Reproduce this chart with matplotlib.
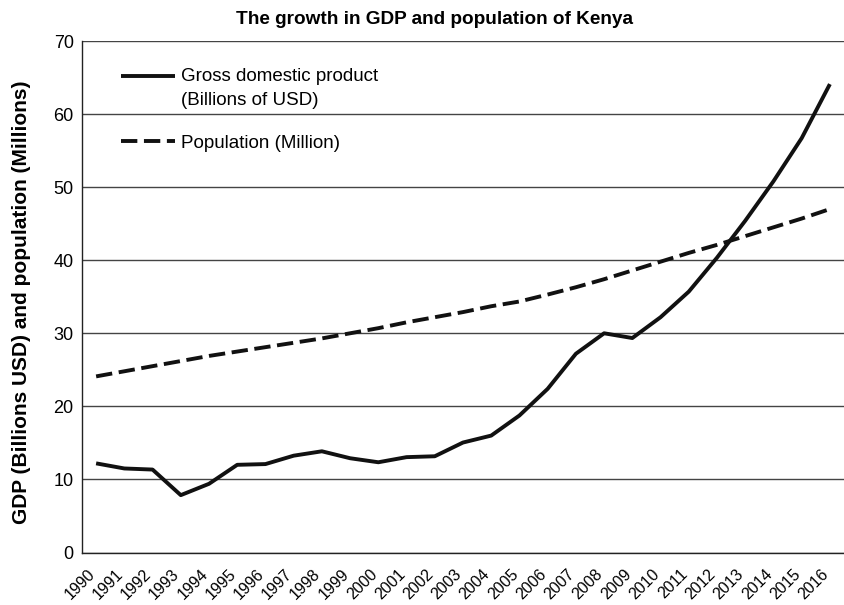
import matplotlib
matplotlib.use("Agg")
import matplotlib.pyplot as plt
import matplotlib.transforms as mtransforms
from matplotlib.legend_handler import HandlerLine2D
import numpy as np

plt.rcParams['font.family'] = ['Liberation Sans', 'DejaVu Sans']

years = [str(y) for y in range(1990, 2017)]
gdp = [12.2, 11.5, 11.35, 7.85, 9.4, 12.0, 12.1, 13.25, 13.85, 12.9, 12.35, 13.05,
       13.17, 15.05, 16.0, 18.75, 22.4, 27.2, 30.0, 29.35, 32.2, 35.7, 40.35, 45.4,
       50.8, 56.7, 64.1]
population = [24.1, 24.8, 25.5, 26.2, 26.9, 27.5, 28.1, 28.7, 29.3, 30.0, 30.7, 31.5,
              32.2, 32.9, 33.7, 34.35, 35.3, 36.3, 37.4, 38.6, 39.8, 41.0, 42.1, 43.3,
              44.5, 45.7, 47.0]

W, H = 844, 605
fig = plt.figure(figsize=(W/100, H/100), dpi=100)
ax = fig.add_axes([82/W, 1-552.5/H, (W-82)/W, (552.5-41)/H])

x = np.arange(len(years))
l1, = ax.plot(x, gdp, color='#111111', lw=2.8, solid_capstyle='butt',
              label='Gross domestic product\n(Billions of USD)')
l2, = ax.plot(x, population, color='#111111', lw=2.8, ls=(0, (4.2, 1.7)),
              label='Population (Million)')

ax.set_xlim(-0.5, len(years) - 0.5)
ax.set_ylim(0, 70)
ax.set_yticks(range(0, 71, 10))
ax.yaxis.grid(True, color='#444444', lw=1.0)
ax.set_axisbelow(True)
ax.set_xticks(x)
ax.set_xticklabels(years, rotation=45, ha='right', rotation_mode='anchor', fontsize=11.5)
ax.tick_params(axis='both', length=0)
ax.tick_params(axis='y', labelsize=13, pad=6)
ax.tick_params(axis='x', pad=5)
shift = mtransforms.ScaledTranslation(-9/100, -7/100, fig.dpi_scale_trans)
for lab in ax.get_xticklabels():
    lab.set_transform(lab.get_transform() + shift)
for s in ['top', 'right']:
    ax.spines[s].set_visible(False)
for s in ['left', 'bottom']:
    ax.spines[s].set_color('#222222')
    ax.spines[s].set_linewidth(1.0)

fig.text(22/W, 1-302/H, 'GDP (Billions USD) and population (Millions)', fontsize=15,
         fontweight='bold', rotation=90, ha='center', va='center')
fig.text(435/W, 1-20/H, 'The growth in GDP and population of Kenya', fontsize=13.7,
         fontweight='bold', ha='center', va='center')


class TopLineHandler(HandlerLine2D):
    def __init__(self, dy=0, **kw):
        super().__init__(**kw)
        self.dy = dy

    def create_artists(self, legend, orig_handle, xdescent, ydescent, width, height,
                       fontsize, trans):
        t = mtransforms.Affine2D().translate(0, self.dy) + trans
        return super().create_artists(legend, orig_handle, xdescent, ydescent, width,
                                      height, fontsize, t)


leg = ax.legend(handles=[l1, l2], loc='upper left',
                bbox_to_anchor=((121-82)/762, (552.5-68)/511.5),
                frameon=False, borderpad=0, borderaxespad=0,
                fontsize=13.5, handlelength=2.9, handletextpad=0.3, labelspacing=1.35,
                handler_map={l1: TopLineHandler(dy=9)})
for t in leg.get_texts():
    t.set_linespacing(1.55)

fig.savefig('out.png', dpi=100)
